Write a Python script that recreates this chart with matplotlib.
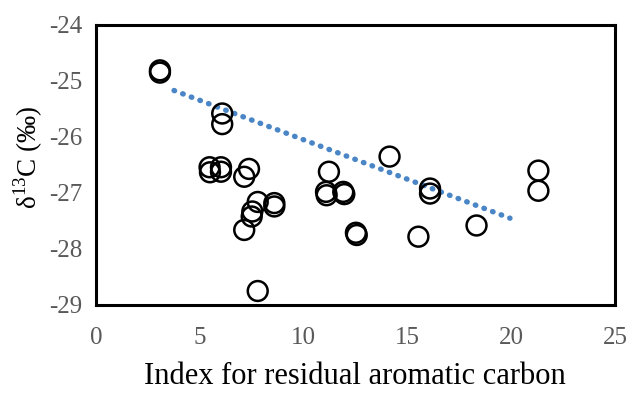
import matplotlib
matplotlib.use("Agg")
import matplotlib.pyplot as plt

plt.rcParams['font.family'] = ['Liberation Serif', 'DejaVu Serif']
plt.rcParams['mathtext.fontset'] = 'custom'
plt.rcParams['mathtext.rm'] = 'Liberation Serif'
plt.rcParams['axes.unicode_minus'] = False

# Data
x_index = [3.08, 3.08, 6.08, 6.08, 5.47, 5.49, 6.02, 6.02, 7.37, 7.14,
           7.79, 7.53, 7.50, 7.14, 8.59, 8.59, 7.79, 11.22, 11.11, 11.08,
           11.91, 11.96, 12.56, 12.52, 14.14, 16.09, 16.09, 15.53, 18.33,
           21.31, 21.31]
d13c = [-24.81, -24.85, -25.58, -25.77, -26.54, -26.63, -26.54, -26.62, -26.57, -26.71,
        -27.16, -27.33, -27.42, -27.66, -27.18, -27.24, -28.75, -26.62, -27.04, -26.98,
        -26.98, -27.02, -27.75, -27.71, -26.35, -26.92, -27.01, -27.78, -27.58,
        -26.60, -26.96]
trend_x = [3.76, 19.94]
trend_y = [-25.17, -27.45]

x_ticks = [0, 5, 10, 15, 20, 25]
y_ticks = [-29, -28, -27, -26, -25, -24]

fig = plt.figure(figsize=(6.33, 3.95), dpi=100)
ax = fig.add_axes([96/633, 1-305/395, (615-96)/633, (305-25)/395])

ax.scatter(x_index, d13c, s=14.3**2, facecolors='none', edgecolors='black',
           linewidths=1.8, zorder=3)
ln, = ax.plot(trend_x, trend_y, color='#4A86C6', linewidth=3.9,
              linestyle=(0, (0.1, 1.6)), zorder=2)
ln.set_dash_capstyle('round')

ax.set_xlim(0, 25)
ax.set_ylim(-29, -24)
ax.set_xticks(x_ticks)
ax.set_yticks(y_ticks)
ax.tick_params(length=0, labelsize=18, labelcolor='#595959')
ax.tick_params(axis='x', pad=16)
ax.tick_params(axis='y', pad=10)
for s in ax.spines.values():
    s.set_linewidth(2.2)
    s.set_color('black')

fig.text(355/633, 1-377/395, 'Index for residual aromatic carbon', ha='center',
         va='center', fontsize=22, color='black')
fig.text(28/633, 1-157/395, r'δ$^{\mathrm{13}}$C (‰)', rotation=90, ha='center',
         va='center', fontsize=19.5, color='black')

fig.savefig('out.png', dpi=100)
